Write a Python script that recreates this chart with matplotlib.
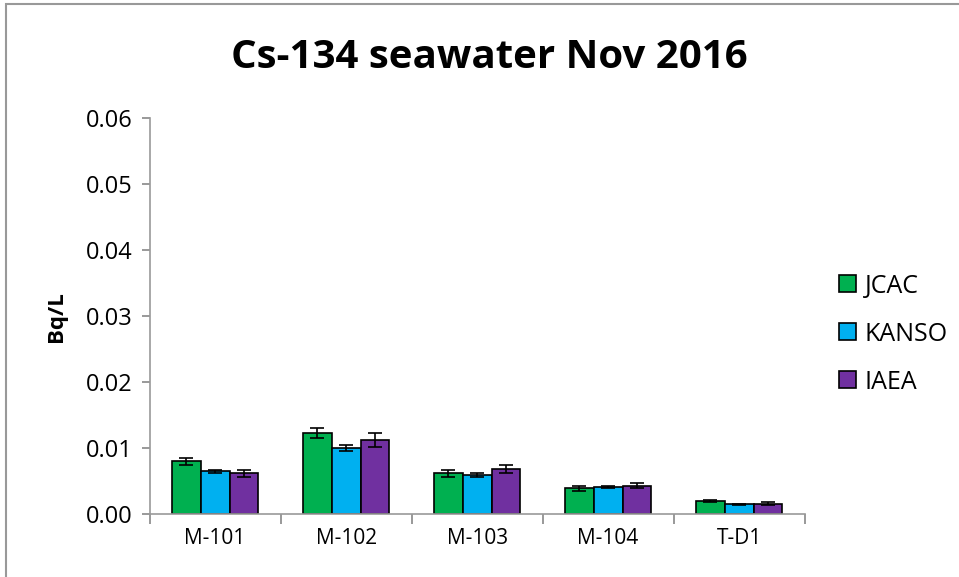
import matplotlib
matplotlib.use("Agg")
import matplotlib.pyplot as plt
import numpy as np
from matplotlib.patches import Rectangle

categories = ["M-101", "M-102", "M-103", "M-104", "T-D1"]
series = ["JCAC", "KANSO", "IAEA"]
jcac = [0.0080, 0.0123, 0.0062, 0.0039, 0.0020]
jcac_err = [0.0005, 0.0007, 0.0005, 0.0004, 0.0002]
kanso = [0.0065, 0.0100, 0.0060, 0.0041, 0.0015]
kanso_err = [0.0002, 0.0005, 0.0003, 0.0001, 0.0001]
iaea = [0.0062, 0.0112, 0.0068, 0.0043, 0.0016]
iaea_err = [0.0005, 0.0011, 0.0006, 0.0004, 0.0002]
yticks = [0.0, 0.01, 0.02, 0.03, 0.04, 0.05, 0.06]
ytick_labels = ["0.00", "0.01", "0.02", "0.03", "0.04", "0.05", "0.06"]

colors = ["#00b050", "#00b0f0", "#7030a0"]
font = ["Open Sans", "DejaVu Sans"]

fig = plt.figure(figsize=(9.59, 5.77), dpi=100)
fig.patch.set_facecolor("white")
fig.add_artist(Rectangle((0.006, -0.02), 1.0, 1.013, transform=fig.transFigure,
                         fill=False, edgecolor="#999999", linewidth=1.5))
ax = fig.add_axes([0.156, 0.109, 0.683, 0.686])

x = np.arange(len(categories))
w = 0.22
vals = [jcac, kanso, iaea]
errs = [jcac_err, kanso_err, iaea_err]
for i, (v, e, c, name) in enumerate(zip(vals, errs, colors, series)):
    ax.bar(x + (i - 1) * w, v, w, color=c, edgecolor="black", linewidth=1.2, label=name,
           yerr=e, capsize=5, error_kw=dict(ecolor="black", elinewidth=1.2, capthick=1.2), zorder=2)

ax.set_xlim(-0.5, len(categories) - 0.5)
ax.set_ylim(0, 0.06)
ax.set_yticks(yticks)
ax.set_yticklabels(ytick_labels, family=font, fontsize=17)
ax.set_xticks(x)
ax.set_xticklabels(categories, family=font, fontsize=15)
ax.tick_params(axis="x", length=0, pad=10)
ax.set_xticks(np.arange(-0.5, len(categories)), minor=True)
ax.tick_params(axis="x", which="minor", length=7, color="#888888", width=1.2)
ax.tick_params(axis="y", length=6, color="#888888", width=1.2, pad=6)
for s in ["top", "right"]:
    ax.spines[s].set_visible(False)
for s in ["left", "bottom"]:
    ax.spines[s].set_color("#999999")
    ax.spines[s].set_linewidth(1.2)
ax.set_ylabel("Bq/L", family=font, fontsize=16, fontweight="bold", labelpad=14)

fig.text(0.51, 0.9, "Cs-134 seawater Nov 2016", ha="center", va="center",
         family=font, fontsize=29, fontweight="bold")

leg = ax.legend(loc="center left", bbox_to_anchor=(1.018, 0.455), frameon=False,
                prop=dict(family=font, size=18), labelspacing=0.92,
                handlelength=0.68, handleheight=0.68, handletextpad=0.35)
for h in leg.legend_handles:
    h.set_linewidth(1.2)

fig.savefig("out.png", dpi=100, facecolor="white")
